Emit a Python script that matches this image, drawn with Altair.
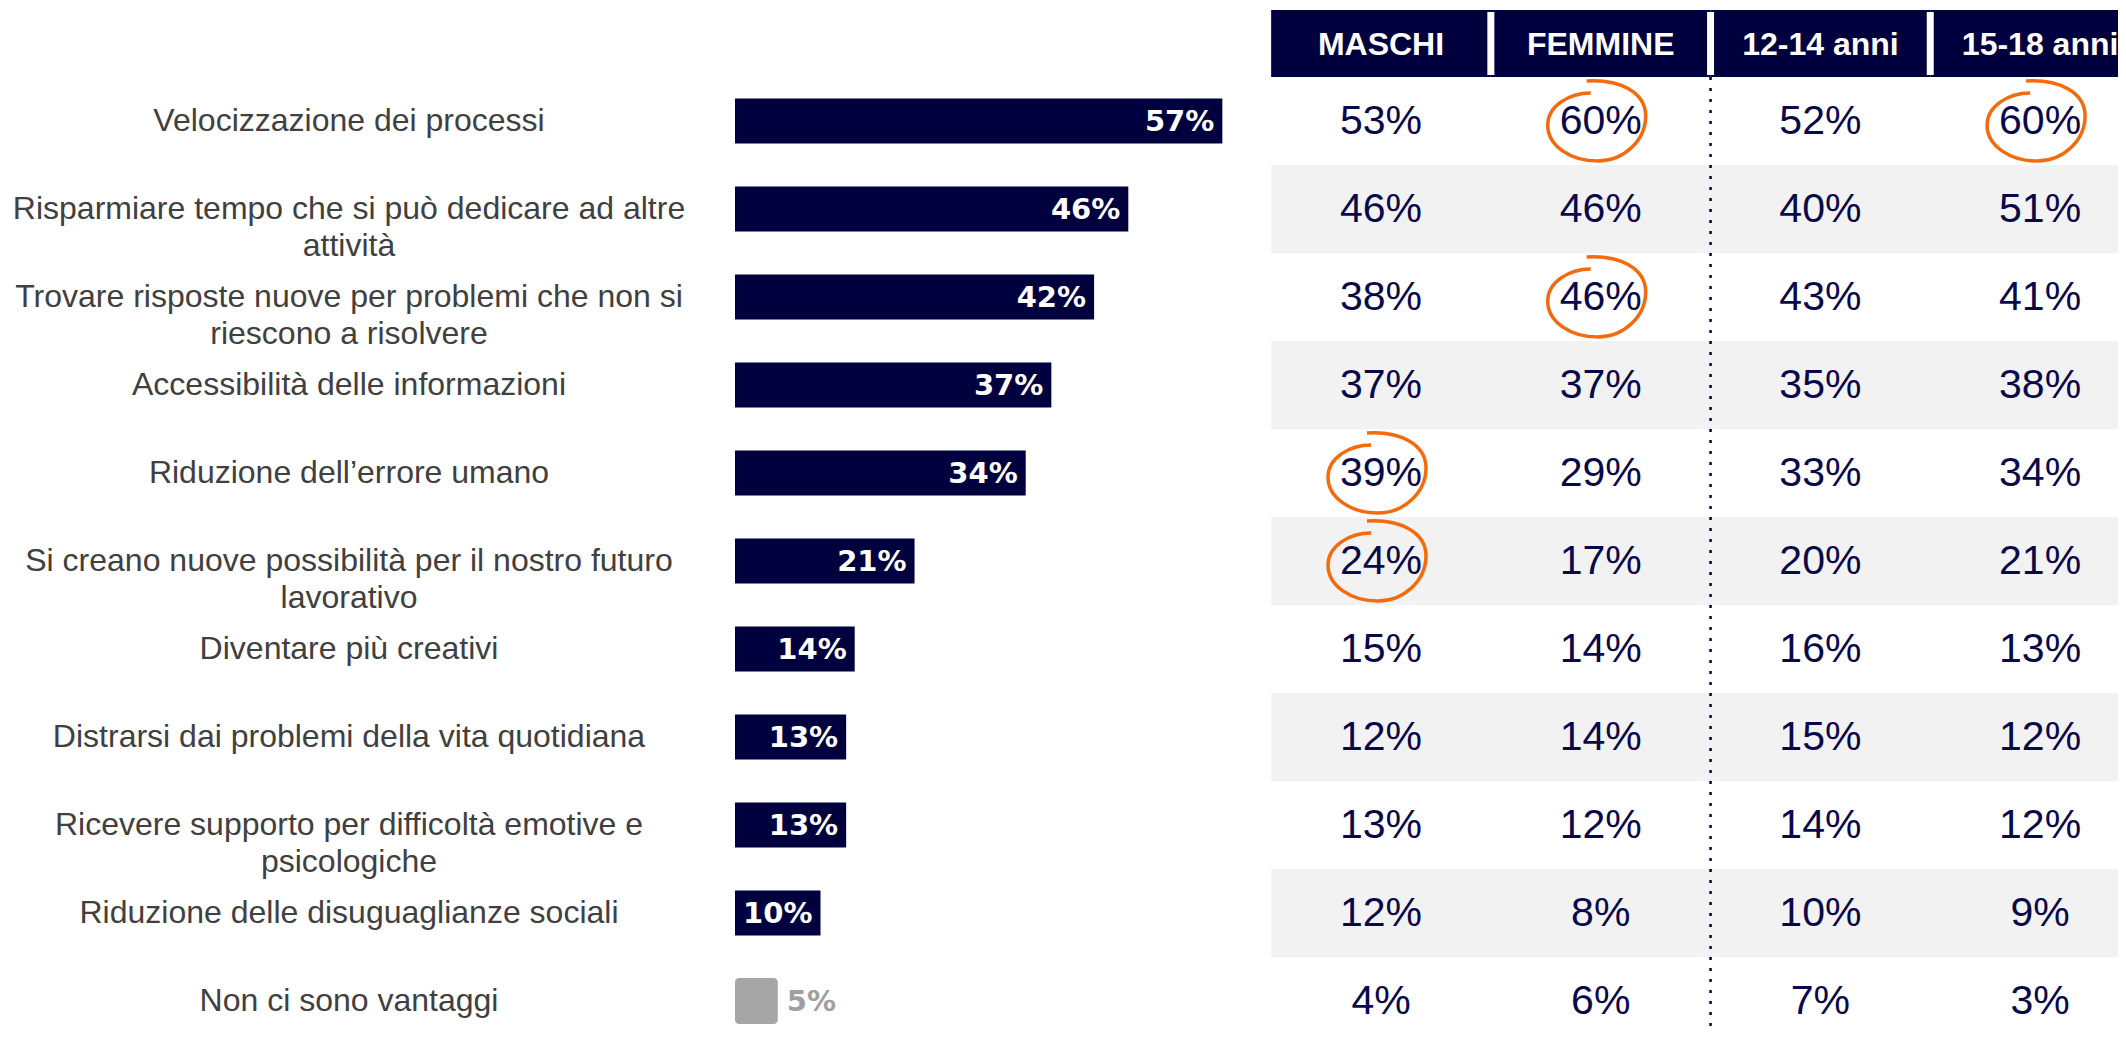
import altair as alt
import pandas as pd

# ---------------- data ----------------
labels = [
    "Velocizzazione dei processi",
    "Risparmiare tempo che si può dedicare ad altre\nattività",
    "Trovare risposte nuove per problemi che non si\nriescono a risolvere",
    "Accessibilità delle informazioni",
    "Riduzione dell’errore umano",
    "Si creano nuove possibilità per il nostro futuro\nlavorativo",
    "Diventare più creativi",
    "Distrarsi dai problemi della vita quotidiana",
    "Ricevere supporto per difficoltà emotive e\npsicologiche",
    "Riduzione delle disuguaglianze sociali",
    "Non ci sono vantaggi",
]
totals = [57, 46, 42, 37, 34, 21, 14, 13, 13, 10, 5]
maschi = [53, 46, 38, 37, 39, 24, 15, 12, 13, 12, 4]
femmine = [60, 46, 46, 37, 29, 17, 14, 14, 12, 8, 6]
eta_12_14 = [52, 40, 43, 35, 33, 20, 16, 15, 14, 10, 7]
eta_15_18 = [60, 51, 41, 38, 34, 21, 13, 12, 12, 9, 3]
columns = ["MASCHI", "FEMMINE", "12-14 anni", "15-18 anni"]
no_benefit_label = "Non ci sono vantaggi"
# cells circled in orange: (row label index, column name)
highlights = [(0, "FEMMINE"), (0, "15-18 anni"), (2, "FEMMINE"), (4, "MASCHI"), (5, "MASCHI")]

# ---------------- layout / style ----------------
W, H = 2110, 1020
ROW_H = 88
TABLE_TOP = 69
HEADER_H = 67
BAR_X0 = 727
PX_PER_PCT = 8.55
COL_X0 = 1373
COL_W = 219.7
LABEL_X = 341

NAVY = "#00003f"
TEXT_NAVY = "#08084a"
LABEL_GREY = "#404040"
BAND_GREY = "#f2f2f2"
BAR_GREY = "#a6a6a6"
ORANGE = "#f56a0c"

y_dom = [-(TABLE_TOP + ROW_H / 2) / ROW_H, (H - TABLE_TOP - ROW_H / 2) / ROW_H]
yscale = alt.Scale(domain=y_dom, reverse=True, nice=False, zero=False, padding=0)
xbar = alt.Scale(domain=[-BAR_X0 / PX_PER_PCT, (W - BAR_X0) / PX_PER_PCT], nice=False, zero=False, padding=0)
xcol = alt.Scale(domain=[-COL_X0 / COL_W, (W - COL_X0) / COL_W], nice=False, zero=False, padding=0)

header_top = -0.5 - HEADER_H / ROW_H
header_mid = -0.5 - HEADER_H / ROW_H / 2

# ---------------- frames ----------------
df_rows = pd.DataFrame({
    "row": list(range(len(labels))),
    "label": labels,
    "pct": totals,
})
df_rows["txt"] = df_rows["pct"].astype(str) + "%"
df_rows["kind"] = ["none" if l == no_benefit_label else "main" for l in labels]

series = {"MASCHI": maschi, "FEMMINE": femmine, "12-14 anni": eta_12_14, "15-18 anni": eta_15_18}
recs = []
for j, c in enumerate(columns):
    for i, v in enumerate(series[c]):
        recs.append({"row": i, "col": j, "txt": f"{v}%"})
df_table = pd.DataFrame(recs)

df_cols = pd.DataFrame({"col": list(range(len(columns))), "name": columns})
df_hl = pd.DataFrame([{"row": r, "col": columns.index(c)} for r, c in highlights])
ncol = len(columns)

# ---------------- layers ----------------
Y = alt.Y("row:Q", scale=yscale, axis=None)

bands = alt.Chart(df_rows).transform_filter("datum.row % 2 == 1").transform_calculate(
    x0="-0.5", x1=f"{ncol} - 0.5", y0="datum.row - 0.5", y1="datum.row + 0.5"
).mark_rect(color=BAND_GREY, clip=True).encode(
    x=alt.X("x0:Q", scale=xcol, axis=None), x2="x1:Q",
    y=alt.Y("y0:Q", scale=yscale, axis=None), y2="y1:Q",
)

header = alt.Chart(df_cols).transform_calculate(
    x0="datum.col - 0.5", x1="datum.col + 0.5", y0=str(header_top), y1="-0.5"
).mark_rect(color=NAVY, clip=True).encode(
    x=alt.X("x0:Q", scale=xcol, axis=None), x2="x1:Q",
    y=alt.Y("y0:Q", scale=yscale, axis=None), y2="y1:Q",
)

header_sep = alt.Chart(df_cols).transform_filter(f"datum.col < {ncol - 1}").transform_calculate(
    xs="datum.col + 0.5", y0=str(header_top + 2 / ROW_H), y1=str(-0.5 - 2 / ROW_H)
).mark_rule(color="white", strokeWidth=7).encode(
    x=alt.X("xs:Q", scale=xcol, axis=None),
    y=alt.Y("y0:Q", scale=yscale, axis=None), y2="y1:Q",
)

header_text = alt.Chart(df_cols).transform_calculate(ym=str(header_mid)).mark_text(
    font="Liberation Sans", fontWeight="bold", fontSize=32, color="white",
    align="center", baseline="middle", dy=1,
).encode(
    x=alt.X("col:Q", scale=xcol, axis=None),
    y=alt.Y("ym:Q", scale=yscale, axis=None),
    text="name:N",
)

divider = alt.Chart(df_cols).transform_filter("datum.col == 1").transform_calculate(
    xs="datum.col + 0.5", y0="-0.5", y1=f"{len(labels)} - 0.5"
).mark_rule(color=NAVY, strokeWidth=2.5, strokeDash=[3, 8], clip=True).encode(
    x=alt.X("xs:Q", scale=xcol, axis=None),
    y=alt.Y("y0:Q", scale=yscale, axis=None), y2="y1:Q",
)

table_text = alt.Chart(df_table).mark_text(
    font="Liberation Sans", fontSize=41, color=TEXT_NAVY, align="center", baseline="middle", dy=1,
).encode(
    x=alt.X("col:Q", scale=xcol, axis=None), y=Y, text="txt:N",
)

ellipse_path = (
    "M -0.12,-0.56 C -0.55,-0.56 -0.98,-0.3 -0.98,0.08 "
    "C -0.98,0.5 -0.52,0.8 0.02,0.8 "
    "C 0.55,0.8 0.98,0.38 0.98,-0.1 "
    "C 0.98,-0.58 0.45,-0.84 -0.2,-0.8"
)
circles = alt.Chart(df_hl).mark_point(
    shape=ellipse_path, size=10000, filled=False, stroke=ORANGE, strokeWidth=3.5, opacity=1, xOffset=-4,
).encode(
    x=alt.X("col:Q", scale=xcol, axis=None), y=Y,
)

left_labels = alt.Chart(df_rows).mark_text(
    font="Liberation Sans", fontSize=32, color=LABEL_GREY, align="center", baseline="middle",
    lineBreak="\n", lineHeight=37,
).encode(
    x=alt.value(LABEL_X), y=Y, text="label:N",
)

bars_main = alt.Chart(df_rows).transform_filter("datum.kind == 'main'").mark_bar(
    size=45, color=NAVY, orient="horizontal",
).encode(
    x=alt.X("pct:Q", scale=xbar, axis=None), x2=alt.datum(0), y=Y,
)

bars_none = alt.Chart(df_rows).transform_filter("datum.kind == 'none'").mark_bar(
    size=46, color=BAR_GREY, orient="horizontal", cornerRadius=4,
).encode(
    x=alt.X("pct:Q", scale=xbar, axis=None), x2=alt.datum(0), y=Y,
)

bar_labels = alt.Chart(df_rows).transform_filter("datum.kind == 'main'").mark_text(
    font="DejaVu Sans", fontWeight="bold", fontSize=29, color="white",
    align="right", baseline="middle", dx=-8, dy=1,
).encode(
    x=alt.X("pct:Q", scale=xbar, axis=None), y=Y, text="txt:N",
)

none_label = alt.Chart(df_rows).transform_filter("datum.kind == 'none'").mark_text(
    font="DejaVu Sans", fontWeight="bold", fontSize=29, color="#a0a0a0",
    align="left", baseline="middle", dx=9, dy=1,
).encode(
    x=alt.X("pct:Q", scale=xbar, axis=None), y=Y, text="txt:N",
)

chart = alt.layer(
    bands, header, header_sep, header_text, divider, table_text, circles,
    left_labels, bars_main, bars_none, bar_labels, none_label,
).resolve_scale(x="independent").properties(
    width=W, height=H, padding=0, autosize=alt.AutoSizeParams(type="none"),
).configure_view(stroke=None)

chart.save("out.html", embed_options={"renderer": "svg", "actions": False})
